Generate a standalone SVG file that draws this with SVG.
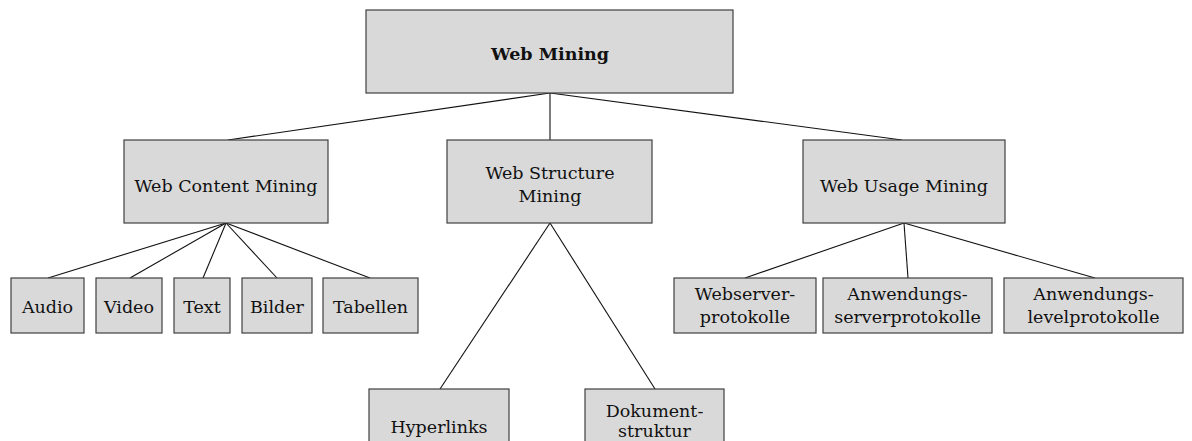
<svg xmlns="http://www.w3.org/2000/svg" width="1192" height="441" viewBox="0 0 1192 441">
<style>
.box{fill:#d9d9d9;stroke:#404040;stroke-width:1.2}
.t{font-family:"DejaVu Serif","Liberation Serif",serif;font-size:17.5px;fill:#111;text-anchor:middle}
.b{font-weight:bold}
.c{stroke:#111;stroke-width:1.1;fill:none}
</style>
<rect width="1192" height="441" fill="#fff"/>
<g id="connectors">
<line class="c" x1="550" y1="93" x2="228" y2="140"/>
<line class="c" x1="550" y1="93" x2="550" y2="140"/>
<line class="c" x1="550" y1="93" x2="902" y2="140"/>
<line class="c" x1="226" y1="223" x2="48" y2="278"/>
<line class="c" x1="226" y1="223" x2="130" y2="278"/>
<line class="c" x1="226" y1="223" x2="203" y2="278"/>
<line class="c" x1="226" y1="223" x2="277" y2="278"/>
<line class="c" x1="226" y1="223" x2="370" y2="278"/>
<line class="c" x1="550" y1="223" x2="440" y2="389"/>
<line class="c" x1="550" y1="223" x2="655" y2="389"/>
<line class="c" x1="904" y1="223" x2="745" y2="278"/>
<line class="c" x1="904" y1="223" x2="908" y2="278"/>
<line class="c" x1="904" y1="223" x2="1095" y2="278"/>
</g>
<g id="web-mining"><rect class="box" x="366" y="10" width="367" height="83"/><text class="t b" x="550" y="60">Web Mining</text></g>
<g id="web-content-mining"><rect class="box" x="124" y="140" width="204" height="83"/><text class="t" x="226" y="192">Web Content Mining</text></g>
<g id="web-structure-mining"><rect class="box" x="447" y="140" width="205" height="83"/><text class="t" x="550" y="179">Web Structure</text><text class="t" x="550" y="202">Mining</text></g>
<g id="web-usage-mining"><rect class="box" x="803" y="140" width="202" height="83"/><text class="t" x="904" y="192">Web Usage Mining</text></g>
<g id="audio"><rect class="box" x="11" y="278" width="73" height="55"/><text class="t" x="47.5" y="313">Audio</text></g>
<g id="video"><rect class="box" x="96" y="278" width="66" height="55"/><text class="t" x="129" y="313">Video</text></g>
<g id="text"><rect class="box" x="174" y="278" width="56" height="55"/><text class="t" x="202" y="313">Text</text></g>
<g id="bilder"><rect class="box" x="242" y="278" width="70" height="55"/><text class="t" x="277" y="313">Bilder</text></g>
<g id="tabellen"><rect class="box" x="323" y="278" width="95" height="55"/><text class="t" x="370.5" y="313">Tabellen</text></g>
<g id="hyperlinks"><rect class="box" x="369" y="389" width="140" height="60"/><text class="t" x="439" y="433">Hyperlinks</text></g>
<g id="dokumentstruktur"><rect class="box" x="585" y="389" width="139" height="60"/><text class="t" x="654.5" y="417">Dokument-</text><text class="t" x="654.5" y="437">struktur</text></g>
<g id="webserverprotokolle"><rect class="box" x="674" y="278" width="142" height="55"/><text class="t" x="745" y="300">Webserver-</text><text class="t" x="745" y="323">protokolle</text></g>
<g id="anwendungsserverprotokolle"><rect class="box" x="823" y="278" width="169" height="55"/><text class="t" x="907.5" y="300">Anwendungs-</text><text class="t" x="907.5" y="323">serverprotokolle</text></g>
<g id="anwendungslevelprotokolle"><rect class="box" x="1004" y="278" width="179" height="55"/><text class="t" x="1093.5" y="300">Anwendungs-</text><text class="t" x="1093.5" y="323">levelprotokolle</text></g>
</svg>
